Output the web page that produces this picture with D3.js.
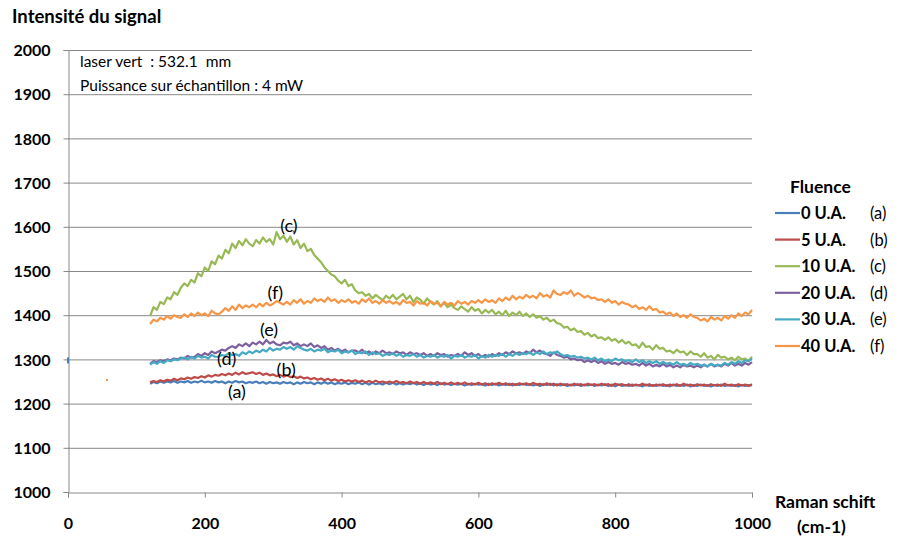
<!DOCTYPE html>
<html><head><meta charset="utf-8">
<script src="https://cdn.jsdelivr.net/npm/d3@7"></script>
<style>body{margin:0;background:#fff}svg{display:block}text{font-family:Lato,"Open Sans",sans-serif}</style>
</head><body><svg id="c" width="899" height="536"></svg>
<script>
// sampling grid of the spectra (cm-1)
const shifts = d3.range(120, 1001, 5);
const yTicks = [1000,1100,1200,1300,1400,1500,1600,1700,1800,1900,2000];
const xTicks = [0,200,400,600,800,1000];
const seriesNames = ["0 U.A.","5 U.A.","10 U.A.","20 U.A.","30 U.A.","40 U.A."];
const seriesTags = ["(a)","(b)","(c)","(d)","(e)","(f)"];
const seriesColors = ["#4a7ebb","#be4b48","#98b954","#7d60a0","#46aac5","#f79646"];

const sA = [1245,1249,1246,1250,1247,1250,1248,1251,1247,1250,
1248,1251,1247,1250,1248,1252,1248,1250,1247,1251,
1248,1250,1246,1250,1247,1251,1248,1250,1246,1249,
1247,1250,1246,1249,1245,1249,1246,1248,1245,1249,
1246,1248,1244,1248,1245,1249,1246,1248,1244,1248,
1245,1249,1245,1248,1244,1247,1245,1248,1244,1247,
1245,1248,1244,1247,1243,1247,1244,1246,1243,1247,
1244,1247,1243,1246,1243,1246,1244,1247,1243,1246,
1242,1246,1243,1245,1242,1246,1243,1245,1242,1245,
1243,1245,1241,1245,1242,1245,1243,1244,1241,1245,
1242,1245,1241,1244,1242,1245,1241,1244,1242,1245,
1242,1244,1241,1244,1240,1244,1242,1245,1241,1244,
1241,1244,1240,1243,1241,1244,1240,1243,1241,1243,
1240,1243,1241,1244,1240,1243,1239,1243,1240,1242,
1240,1243,1241,1242,1239,1243,1240,1242,1240,1243,
1240,1242,1239,1243,1240,1242,1240,1243,1239,1242,
1240,1243,1240,1242,1239,1242,1240,1243,1240,1242,
1240,1242,1239,1242,1240,1242,1241];
const sB = [1248,1251,1249,1253,1250,1254,1252,1256,1253,1257,
1255,1259,1256,1260,1258,1262,1259,1264,1261,1265,
1263,1267,1264,1268,1265,1270,1266,1271,1267,1269,
1271,1267,1270,1265,1268,1264,1266,1262,1265,1261,
1264,1260,1262,1258,1261,1257,1259,1255,1258,1254,
1257,1253,1256,1252,1255,1251,1254,1250,1253,1250,
1253,1249,1252,1248,1251,1248,1252,1248,1250,1247,
1250,1247,1251,1247,1249,1246,1250,1246,1249,1245,
1249,1245,1248,1245,1249,1244,1247,1244,1248,1244,
1247,1244,1248,1243,1246,1243,1247,1243,1246,1242,
1246,1243,1247,1243,1246,1242,1245,1242,1246,1243,
1246,1242,1247,1243,1245,1242,1246,1242,1245,1241,
1245,1242,1244,1241,1245,1242,1244,1241,1245,1242,
1244,1241,1245,1242,1244,1240,1245,1242,1244,1241,
1244,1240,1243,1241,1245,1241,1244,1240,1243,1241,
1244,1240,1243,1241,1244,1240,1245,1241,1243,1240,
1244,1241,1243,1240,1244,1241,1243,1240,1245,1241,
1243,1240,1244,1241,1243,1240,1244];
const sC = [1398,1418,1412,1430,1425,1440,1436,1452,1446,1462,
1472,1466,1480,1474,1495,1488,1508,1500,1522,1515,
1535,1528,1548,1540,1562,1552,1568,1558,1572,1562,
1556,1570,1562,1576,1566,1572,1560,1588,1572,1580,
1566,1578,1560,1570,1552,1562,1545,1550,1536,1528,
1520,1508,1500,1492,1488,1478,1472,1480,1466,1470,
1456,1450,1452,1444,1448,1438,1446,1440,1434,1444,
1438,1446,1436,1442,1448,1436,1444,1430,1440,1435,
1426,1438,1430,1424,1432,1420,1428,1418,1424,1416,
1412,1420,1414,1408,1418,1410,1414,1404,1412,1406,
1412,1402,1408,1400,1410,1398,1406,1400,1408,1398,
1404,1396,1402,1394,1398,1390,1394,1386,1390,1382,
1380,1372,1374,1366,1370,1362,1364,1356,1360,1352,
1356,1348,1350,1344,1350,1342,1346,1338,1344,1336,
1340,1332,1334,1326,1338,1328,1330,1322,1332,1324,
1326,1318,1320,1314,1322,1316,1318,1310,1318,1312,
1312,1306,1314,1304,1308,1300,1310,1304,1306,1300,
1304,1298,1306,1300,1302,1296,1306];
const sD = [1290,1296,1294,1298,1296,1300,1298,1302,1300,1304,
1302,1308,1304,1306,1312,1308,1314,1310,1318,1314,
1318,1322,1320,1326,1330,1326,1334,1330,1336,1330,
1338,1334,1340,1334,1344,1336,1340,1334,1332,1338,
1336,1340,1332,1336,1330,1334,1330,1336,1328,1332,
1326,1330,1322,1326,1320,1324,1318,1322,1316,1320,
1320,1316,1322,1314,1318,1312,1318,1314,1320,1314,
1316,1312,1318,1314,1316,1310,1316,1312,1314,1310,
1314,1308,1312,1308,1314,1310,1312,1306,1310,1308,
1312,1308,1316,1310,1314,1308,1312,1306,1310,1306,
1312,1308,1314,1310,1316,1312,1318,1314,1316,1312,
1318,1314,1322,1316,1320,1314,1312,1308,1316,1310,
1308,1304,1306,1300,1302,1298,1300,1294,1298,1294,
1298,1292,1296,1290,1294,1290,1292,1288,1294,1290,
1292,1288,1290,1286,1292,1286,1290,1284,1288,1284,
1290,1284,1288,1282,1286,1282,1288,1284,1286,1282,
1286,1282,1288,1284,1290,1284,1288,1284,1290,1286,
1292,1286,1290,1286,1292,1288,1294];
const sE = [1288,1294,1290,1296,1292,1298,1296,1300,1298,1302,
1304,1300,1306,1302,1308,1304,1306,1302,1310,1306,
1306,1310,1308,1314,1310,1312,1308,1316,1312,1318,
1314,1320,1316,1322,1318,1326,1320,1324,1322,1328,
1324,1328,1322,1330,1326,1322,1320,1324,1318,1322,
1320,1324,1316,1320,1318,1322,1314,1318,1316,1320,
1312,1316,1314,1318,1310,1316,1312,1314,1308,1312,
1310,1314,1308,1312,1306,1310,1308,1312,1306,1310,
1304,1308,1306,1310,1304,1308,1306,1310,1302,1308,
1306,1310,1304,1308,1306,1310,1302,1308,1304,1310,
1306,1310,1308,1312,1306,1312,1308,1314,1310,1314,
1312,1316,1310,1316,1312,1318,1312,1316,1314,1318,
1312,1308,1310,1306,1308,1304,1306,1302,1304,1300,
1304,1298,1302,1296,1300,1296,1302,1298,1300,1296,
1298,1294,1300,1294,1298,1292,1296,1292,1296,1290,
1294,1290,1292,1288,1294,1288,1290,1286,1292,1288,
1290,1286,1288,1284,1290,1286,1288,1286,1292,1288,
1294,1290,1296,1292,1298,1296,1302];
const sF = [1380,1390,1386,1394,1390,1398,1392,1400,1396,1394,
1402,1396,1404,1398,1406,1400,1404,1398,1410,1404,
1402,1408,1416,1410,1420,1412,1424,1416,1422,1418,
1424,1418,1426,1420,1428,1422,1426,1432,1428,1424,
1430,1424,1434,1428,1436,1426,1432,1428,1438,1432,
1436,1430,1440,1432,1436,1428,1434,1430,1436,1428,
1432,1426,1436,1430,1438,1428,1432,1426,1434,1428,
1432,1426,1430,1424,1434,1428,1430,1422,1432,1426,
1428,1422,1432,1426,1428,1420,1430,1424,1428,1422,
1432,1426,1430,1424,1432,1428,1434,1428,1436,1430,
1434,1428,1438,1432,1440,1434,1444,1436,1442,1438,
1446,1440,1444,1438,1450,1442,1446,1440,1456,1448,
1446,1452,1448,1456,1444,1450,1446,1440,1444,1438,
1440,1434,1436,1430,1436,1428,1432,1424,1430,1426,
1424,1418,1422,1414,1418,1412,1420,1412,1414,1406,
1408,1402,1406,1398,1404,1396,1400,1394,1402,1396,
1394,1388,1392,1386,1396,1390,1394,1388,1398,1392,
1400,1394,1404,1398,1406,1402,1412];
const seriesValues = [sA,sB,sC,sD,sE,sF];
// in-plot series tags: [x (cm-1), intensity]
const tagX = [247,319,323,232,294,303];
const tagY = [1212,1262,1589,1287,1352,1436];
// isolated stray points seen in the chart
const strayX = [0,57,330];
const strayY = [1300,1251,1587];
const strayS = [0,5,3];

const svg = d3.select("#c");
const x = d3.scaleLinear().domain([0,1000]).range([68,752]);
const y = d3.scaleLinear().domain([1000,2000]).range([492,50]);
const grid = "#888";

// gridlines
svg.append("g").selectAll("line").data(yTicks.filter(v=>v>1000)).join("line")
  .attr("x1",x(0)).attr("x2",x(1000)).attr("y1",d=>y(d)+0.5).attr("y2",d=>y(d)+0.5)
  .attr("stroke",grid).attr("stroke-width",1);

// axes
const ya = svg.append("g").attr("transform",`translate(${x(0)+0.5},0)`)
  .call(d3.axisLeft(y).tickValues(yTicks).tickSize(5).tickPadding(13).tickFormat(d3.format("d")));
const xa = svg.append("g").attr("transform",`translate(0,${y(1000)+0.5})`)
  .call(d3.axisBottom(x).tickValues(xTicks).tickSize(5).tickPadding(20).tickFormat(d3.format("d")));
[ya,xa].forEach(g=>{
  g.select(".domain").attr("stroke",grid);
  g.selectAll(".tick line").attr("stroke",grid);
  g.selectAll(".tick text").attr("fill","#000").style("font-family","Lato, sans-serif")
   .style("font-size","16px").style("font-weight","bold");
});
ya.selectAll(".tick text").attr("dy","0.36em");
xa.selectAll(".tick text").attr("dy","0.71em");

// lines
const line = d3.line().x((d,i)=>x(shifts[i])).y(d=>y(d));
svg.append("g").selectAll("path").data(seriesValues).join("path")
  .attr("d",d=>line(d)).attr("fill","none")
  .attr("stroke",(d,i)=>seriesColors[i]).attr("stroke-width",2.2).attr("stroke-linejoin","round");

// stray points
svg.append("g").selectAll("rect").data(strayX).join("rect")
  .attr("x",(d,i)=>x(d)-1).attr("y",(d,i)=>y(strayY[i])-2).attr("width",2).attr("height",(d,i)=>i===0?6:2)
  .attr("fill",(d,i)=>seriesColors[strayS[i]]);

// tags
svg.append("g").selectAll("text").data(seriesTags).join("text")
  .attr("x",(d,i)=>x(tagX[i])).attr("y",(d,i)=>y(tagY[i])).attr("text-anchor","middle")
  .style("font-size","18px").attr("fill","#000").text(d=>d);

// annotations
svg.append("text").attr("x",80).attr("y",67).style("font-size","15.5px").attr("xml:space","preserve").text("laser vert  : 532.1  mm");
svg.append("text").attr("x",80).attr("y",91).style("font-size","15.5px").text("Puissance sur échantillon : 4 mW");

// axis titles
svg.append("text").attr("x",12).attr("y",23).style("font-size","18.5px").style("font-weight","bold").text("Intensité du signal");
svg.append("text").attr("x",775).attr("y",508).style("font-size","17.5px").style("font-weight","bold").text("Raman schift");
svg.append("text").attr("x",797).attr("y",533).style("font-size","17.5px").style("font-weight","bold").text("(cm-1)");

// legend
const lg = svg.append("g");
lg.append("text").attr("x",790).attr("y",193).style("font-size","17.5px").style("font-weight","bold").text("Fluence");
const rows = lg.selectAll("g.r").data(seriesNames).join("g").attr("class","r")
  .attr("transform",(d,i)=>`translate(0,${213+i*26.6})`);
rows.append("line").attr("x1",775).attr("x2",800).attr("y1",0).attr("y2",0)
  .attr("stroke",(d,i)=>seriesColors[i]).attr("stroke-width",2.2);
rows.append("text").attr("x",801).attr("y",6).style("font-size","16.5px").style("font-weight","bold").text(d=>d);
rows.append("text").attr("x",870).attr("y",6).style("font-size","16.5px").text((d,i)=>seriesTags[i]);
</script></body></html>
